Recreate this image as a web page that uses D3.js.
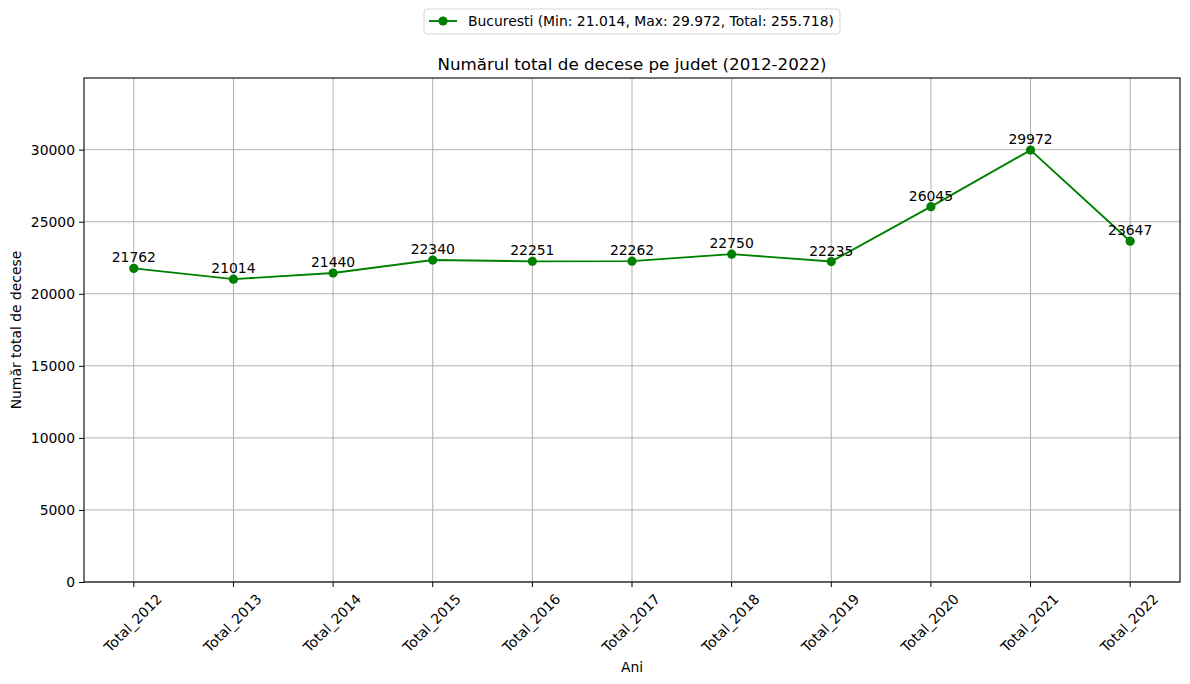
<!DOCTYPE html>
<html>
<head>
<meta charset="utf-8">
<title>Decese Bucuresti</title>
<script src="https://d3js.org/d3.v7.min.js"></script>
<style>
  body { margin: 0; background: #fff; }
  text { font-family: "DejaVu Sans", sans-serif; }
</style>
</head>
<body>
<div id="chart"></div>
<script>
// date
const ani = ["Total_2012", "Total_2013", "Total_2014", "Total_2015", "Total_2016", "Total_2017",
             "Total_2018", "Total_2019", "Total_2020", "Total_2021", "Total_2022"];
const decese = [21762, 21014, 21440, 22340, 22251, 22262, 22750, 22235, 26045, 29972, 23647];
const yTicks = [0, 5000, 10000, 15000, 20000, 25000, 30000];
const legendText = "Bucuresti (Min: 21.014, Max: 29.972, Total: 255.718)";
const titlu = "Numărul total de decese pe judet (2012-2022)";

const W = 1190, H = 684;
const margin = {top: 78, right: 10, bottom: 102, left: 84};
const w = W - margin.left - margin.right;
const h = H - margin.top - margin.bottom;
const verde = "#008000";
const fs = "13.9px";

const svg = d3.select("#chart").append("svg")
    .attr("width", W).attr("height", H);
const g = svg.append("g")
    .attr("transform", "translate(" + margin.left + "," + margin.top + ")");

const x = d3.scaleLinear().domain([-0.5, ani.length - 0.5]).range([0, w]);
const y = d3.scaleLinear().domain([0, d3.max(decese) + 5000]).range([h, 0]);

// grila
g.append("g").selectAll("line").data(ani).join("line")
    .attr("x1", (d, i) => x(i)).attr("x2", (d, i) => x(i))
    .attr("y1", 0).attr("y2", h)
    .attr("stroke", "#b0b0b0").attr("stroke-width", 1);
g.append("g").selectAll("line").data(yTicks).join("line")
    .attr("x1", 0).attr("x2", w)
    .attr("y1", d => y(d)).attr("y2", d => y(d))
    .attr("stroke", "#b0b0b0").attr("stroke-width", 1);

// axe
const yAxis = d3.axisLeft(y).tickValues(yTicks).tickSize(5).tickPadding(4).tickFormat(d3.format("d"));
const ya = g.append("g").call(yAxis);
ya.select(".domain").remove();
ya.selectAll("text").attr("font-size", fs).attr("fill", "#000").style("font-family", "DejaVu Sans");

const xa = g.append("g").attr("transform", "translate(0," + h + ")");
xa.selectAll("line").data(ani).join("line")
    .attr("x1", (d, i) => x(i)).attr("x2", (d, i) => x(i))
    .attr("y1", 0).attr("y2", 5).attr("stroke", "#000");
xa.selectAll("text").data(ani).join("text")
    .attr("transform", (d, i) => "translate(" + (x(i) - 1) + ",41) rotate(-45)")
    .attr("text-anchor", "middle")
    .attr("dominant-baseline", "central")
    .attr("font-size", fs)
    .text(d => d);

// chenar
g.append("rect").attr("width", w).attr("height", h)
    .attr("fill", "none").attr("stroke", "#000").attr("stroke-width", 1.1);

// linia
const line = d3.line().x((d, i) => x(i)).y(d => y(d));
g.append("path").datum(decese)
    .attr("d", line).attr("fill", "none")
    .attr("stroke", verde).attr("stroke-width", 1.9);
g.selectAll("circle.pt").data(decese).join("circle")
    .attr("class", "pt")
    .attr("cx", (d, i) => x(i)).attr("cy", d => y(d))
    .attr("r", 4.6).attr("fill", verde);

// etichete valori
g.selectAll("text.val").data(decese).join("text")
    .attr("class", "val")
    .attr("x", (d, i) => x(i)).attr("y", d => y(d) - 6)
    .attr("text-anchor", "middle")
    .attr("font-size", fs)
    .text(d => d);

// titlu
svg.append("text")
    .attr("x", margin.left + w / 2).attr("y", 70)
    .attr("text-anchor", "middle").attr("font-size", "16.7px")
    .text(titlu);

// titluri axe
svg.append("text")
    .attr("x", margin.left + w / 2).attr("y", 672)
    .attr("text-anchor", "middle").attr("font-size", fs)
    .text("Ani");
svg.append("text")
    .attr("transform", "translate(21," + (margin.top + h / 2) + ") rotate(-90)")
    .attr("text-anchor", "middle").attr("font-size", fs)
    .text("Număr total de decese");

// legenda
const lg = svg.append("g");
const lt = lg.append("text")
    .attr("x", 468).attr("y", 26)
    .attr("font-size", fs)
    .text(legendText);
const tw = lt.node().getComputedTextLength();
const bx = 424, bw = (468 - bx) + tw + 6;
lg.insert("rect", "text")
    .attr("x", bx).attr("y", 9).attr("width", bw).attr("height", 25)
    .attr("rx", 3).attr("fill", "#fff").attr("stroke", "#d6d6d6");
lg.append("line").attr("x1", 429).attr("x2", 457).attr("y1", 21).attr("y2", 21)
    .attr("stroke", verde).attr("stroke-width", 1.9);
lg.append("circle").attr("cx", 443).attr("cy", 21).attr("r", 4.6).attr("fill", verde);
</script>
</body>
</html>
